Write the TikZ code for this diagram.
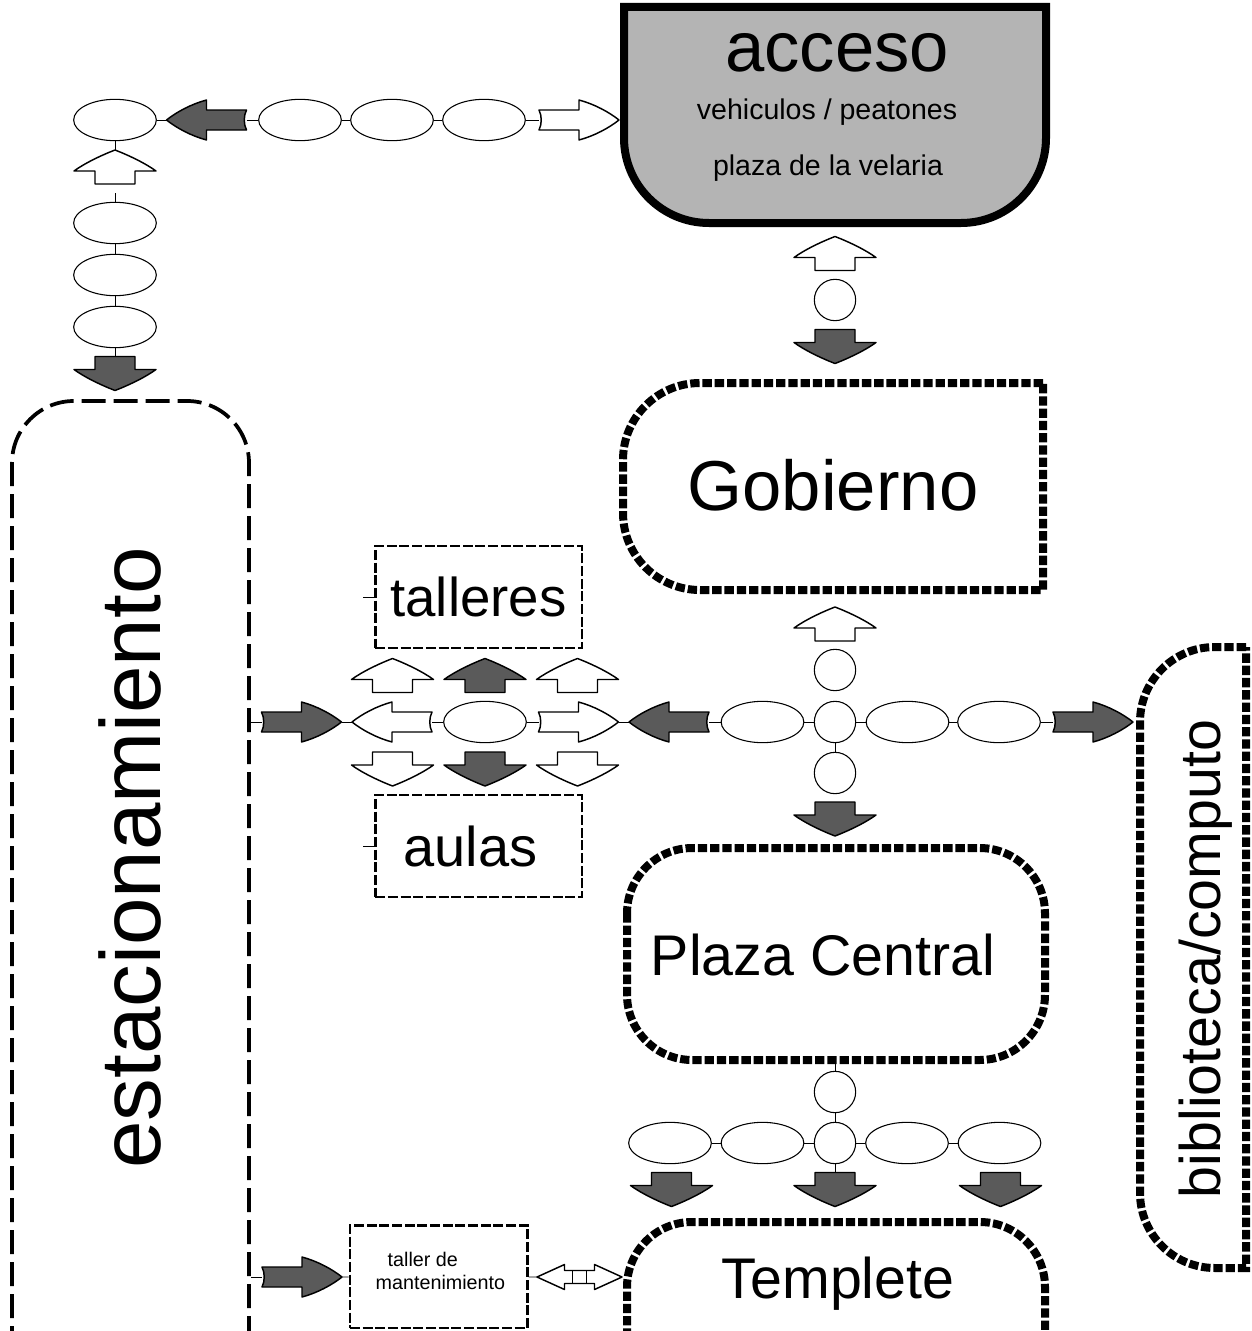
\documentclass[tikz,border=0pt]{standalone}
\usepackage{fontspec}
\setmainfont{Liberation Sans}
\usetikzlibrary{shapes.geometric, positioning}
\definecolor{dk}{RGB}{90,90,90}
\definecolor{accgray}{RGB}{180,180,180}

\begin{document}
\begin{tikzpicture}[x=0.75pt,y=0.75pt,yscale=-1,xscale=1,
  elli/.style={draw, ellipse, line width=0.8pt, minimum width=62pt, minimum height=31pt, inner sep=0pt},
  circ/.style={draw, circle, line width=0.8pt, minimum size=31pt, inner sep=0pt},
  lnk/.style={line width=0.6pt},
  blk/.style={line width=1.1pt, line join=round},
  sqbox/.style={line width=6pt, dash pattern=on 7pt off 2.2pt},
  dbox/.style={draw, line width=2pt, dash pattern=on 7.5pt off 2pt, minimum width=155pt, minimum height=76.5pt, inner sep=0pt},
  lbox/.style={line width=2.8pt, dash pattern=on 18pt off 6pt},
  pics/hblk/.style={code={
    \draw[blk, fill=#1] (-40,-10) -- (0,-10) -- (0,-20) .. controls (15,-16) and (30,-8) .. (40,0) .. controls (30,8) and (15,16) .. (0,20) -- (0,10) -- (-40,10) .. controls (-37,4) and (-37,-4) .. (-40,-10) -- cycle;
    \coordinate (-tip) at (40,0); \coordinate (-tail) at (-40,0);}},
  pics/vblk/.style={code={
    \draw[blk, fill=#1] (-17,-20) -- (-4,-20) -- (-4,-41) .. controls (4,-30) and (12,-13) .. (17,0) .. controls (12,13) and (4,30) .. (-4,41) -- (-4,20) -- (-17,20) -- cycle;
    \coordinate (-tip) at (17,0); \coordinate (-tail) at (-17,0);}},
  pics/dblk/.style={code={
    \draw[blk, fill=white] (-42.5,0) -- (-15,-12.5) -- (-15,-6.5) -- (15,-6.5) -- (15,-12.5) -- (42.5,0) -- (15,12.5) -- (15,6.5) -- (-15,6.5) -- (-15,12.5) -- cycle;
    \draw[blk] (-7,-6.5) -- (-7,6.5) (7,-6.5) -- (7,6.5);
    \coordinate (-w) at (-42.5,0); \coordinate (-e) at (42.5,0);}}
]
%set diagram left start at 0, and has height of 1331
\useasboundingbox (0,0) rectangle (1252,1331);
\clip (0,0) rectangle (1252,1331);

%Shape: acceso
\draw [line width=6pt, fill=accgray] (624,7) -- (1046,7) -- (1046,138) arc[start angle=0, end angle=90, radius=85] -- (709,223) arc[start angle=90, end angle=180, radius=85] -- cycle ;
%Shape: Gobierno
\draw [sqbox] (1043,383) -- (700,383) arc[start angle=270, end angle=180, radius=77] -- (623,513) arc[start angle=180, end angle=90, radius=77] -- (1043,590) -- cycle ;
%Shape: Plaza Central
\draw [sqbox, rounded corners=49pt] (627,848) rectangle (1045,1060) ;
%Shape: Templete
\draw [sqbox] (627,1350) -- (627,1287) arc[start angle=180, end angle=270, radius=65] -- (980,1222) arc[start angle=270, end angle=360, radius=65] -- (1045,1350) ;
%Shape: biblioteca
\draw [sqbox] (1246,647) -- (1215,647) arc[start angle=270, end angle=180, radius=75] -- (1140,1193) arc[start angle=180, end angle=90, radius=75] -- (1246,1268) -- cycle ;
%Shape: estacionamiento
\draw [lbox] (12,1350) -- (12,463) arc[start angle=180, end angle=270, radius=62] -- (187,401) arc[start angle=270, end angle=360, radius=62] -- (249,1350) ;

% Text Node
\node [anchor=base, font=\fontsize{53}{60}\selectfont] (acc) at (837,72) {acceso};
% Text Node
\node [anchor=base, font=\fontsize{21.4}{26}\selectfont] (veh) at (827,119) {vehiculos / peatones};
% Text Node
\node [anchor=base, font=\fontsize{21.4}{26}\selectfont] (vel) at (828,175) {plaza de la velaria};
% Text Node
\node [anchor=base, font=\fontsize{53}{60}\selectfont] (gob) at (833,510) {Gobierno};
% Text Node
\node [anchor=base, font=\fontsize{43}{50}\selectfont] (pla) at (823,975) {Plaza Central};
% Text Node
\node [anchor=base, font=\fontsize{43}{50}\selectfont] (tem) at (838,1298) {Templete};
% Text Node
\node [anchor=base, rotate=90, font=\fontsize{43}{50}\selectfont] (bib) at (1220,959) {biblioteca/computo};
% Text Node
\node [anchor=base, rotate=90, font=\fontsize{64}{70}\selectfont] (est) at (160,858) {estacionamiento};

%Shapes: talleres / aulas / mantenimiento
\node [dbox, font=\fontsize{41}{48}\selectfont] (tal) at (478.5,597) {talleres};
\node [dbox, font=\fontsize{42}{48}\selectfont] (aul) at (478.5,846) {\hspace*{-12pt}aulas};
\node [dbox, minimum width=133pt, minimum height=77pt] (mnt) at (438.5,1276.5) {};
\draw [lnk] (tal.west) -- ++(-11,0) ;
\draw [lnk] (aul.west) -- ++(-11,0) ;
% Text Node
\node [anchor=base west, font=\fontsize{14.8}{17}\selectfont] (mt1) at (383,1266.5) {taller de};
% Text Node
\node [anchor=base west, font=\fontsize{14.8}{17}\selectfont] (mt2) at (371,1289) {mantenimiento};

%Top row
\node [elli] (tA) at (115,120) {};
\pic [rotate=180] (tl) at (206.5,120) {hblk=dk};
\node [elli] (t1) at (300,120) {};
\node [elli] (t2) at (392,120) {};
\node [elli] (t3) at (484,120) {};
\pic (tr) at (579,120) {hblk=white};
\draw [lnk] (tA) -- (tl-tip) ;
\draw [lnk] (tl-tail) -- (t1) ;
\draw [lnk] (t1) -- (t2) ;
\draw [lnk] (t2) -- (t3) ;
\draw [lnk] (t3) -- (tr-tail) ;

%Left column
\pic [rotate=90] (lu) at (115,167) {vblk=white};
\node [elli] (l1) at (115,223) {};
\node [elli] (l2) at (115,275) {};
\node [elli] (l3) at (115,327) {};
\pic [rotate=-90] (ld) at (115,373.5) {vblk=dk};
\coordinate (l1top) at (115,193);
\draw [lnk] (tA) -- (lu-tip) ;
\draw [lnk] (l1top) -- (l1) ;
\draw [lnk] (l1) -- (l2) ;
\draw [lnk] (l2) -- (l3) ;
\draw [lnk] (l3) -- (ld-tail) ;

%acceso - Gobierno
\pic [rotate=90] (au) at (835,253.5) {vblk=white};
\node [circ] (c0) at (835,300) {};
\pic [rotate=-90] (ad) at (835,346.5) {vblk=dk};

%Gobierno - Plaza Central
\pic [rotate=90] (gu) at (835,624) {vblk=white};
\node [circ] (cu) at (835,670) {};
\node [circ] (cc) at (835,722) {};
\node [circ] (cd) at (835,773) {};
\pic [rotate=-90] (gd) at (835,819) {vblk=dk};
\draw [lnk] (cc) -- (cd) ;

%Middle row
\coordinate (estR) at (251,722);
\pic (m0) at (301.5,722) {hblk=dk};
\pic [rotate=180] (mwl) at (392,722) {hblk=white};
\node [elli] (m1) at (485,722) {};
\pic (mwr) at (578.5,722) {hblk=white};
\pic [rotate=180] (mdl) at (669,722) {hblk=dk};
\node [elli] (m2) at (762.5,722) {};
\node [elli] (m3) at (907.5,722) {};
\node [elli] (m4) at (999,722) {};
\pic (mdr) at (1093,722) {hblk=dk};
\draw [lnk] (estR) -- (m0-tail) ;
\draw [lnk] (m0-tip) -- (mwl-tip) ;
\draw [lnk] (mwl-tail) -- (m1) ;
\draw [lnk] (m1) -- (mwr-tail) ;
\draw [lnk] (mwr-tip) -- (mdl-tip) ;
\draw [lnk] (mdl-tail) -- (m2) ;
\draw [lnk] (m2) -- (cc) ;
\draw [lnk] (cc) -- (m3) ;
\draw [lnk] (m3) -- (m4) ;
\draw [lnk] (m4) -- (mdr-tail) ;

%talleres / aulas arrows
\pic [rotate=90] (u1) at (392.5,675.5) {vblk=white};
\pic [rotate=90] (u2) at (485,675.5) {vblk=dk};
\pic [rotate=90] (u3) at (577.5,675.5) {vblk=white};
\pic [rotate=-90] (d1) at (392.5,769) {vblk=white};
\pic [rotate=-90] (d2) at (485,769) {vblk=dk};
\pic [rotate=-90] (d3) at (577.5,769) {vblk=white};

%Plaza Central - Templete
\coordinate (plaB) at (835,1060);
\node [circ] (p0) at (835,1092) {};
\node [circ] (pc) at (835,1143) {};
\node [elli] (b1) at (670,1143) {};
\node [elli] (b2) at (762.5,1143) {};
\node [elli] (b3) at (907,1143) {};
\node [elli] (b4) at (999.5,1143) {};
\pic [rotate=-90] (bd1) at (671.5,1189.5) {vblk=dk};
\pic [rotate=-90] (bd2) at (835,1189.5) {vblk=dk};
\pic [rotate=-90] (bd3) at (1000.5,1189.5) {vblk=dk};
\draw [lnk] (plaB) -- (p0) ;
\draw [lnk] (p0) -- (pc) ;
\draw [lnk] (b1) -- (b2) ;
\draw [lnk] (b2) -- (pc) ;
\draw [lnk] (pc) -- (b3) ;
\draw [lnk] (b3) -- (b4) ;
\draw [lnk] (pc) -- (bd2-tail) ;

%mantenimiento row
\coordinate (estR2) at (251,1277);
\pic (ma) at (302,1277) {hblk=dk};
\pic (mx) at (579.5,1277) {dblk};
\draw [lnk] (estR2) -- (ma-tail) ;
\draw [lnk] (ma-tip) -- (mnt) ;
\draw [lnk] (mnt) -- (mx-w) ;

\end{tikzpicture}
\end{document}
